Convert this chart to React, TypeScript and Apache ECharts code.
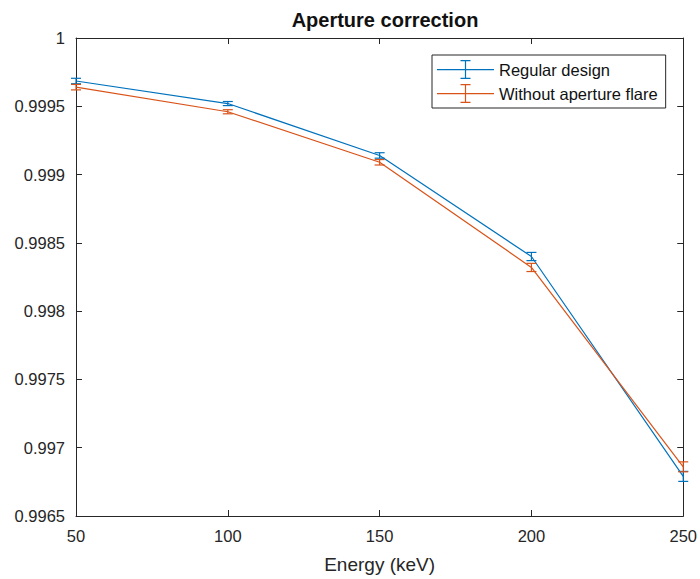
import React, { useEffect, useRef } from "react";
import * as echarts from "echarts";

// Photon energies (keV)
const energies = [50, 100, 150, 200, 250];

// Aperture correction factor, regular collimator design
const regularDesign = [0.999685, 0.99952, 0.99914, 0.9984, 0.99679];
const regularErr = [0.00002, 0.000015, 0.00002, 0.00003, 0.0000365];

// Aperture correction factor, collimator without aperture flare
const noFlare = [0.99964, 0.99946, 0.99909, 0.99832, 0.99686];
const noFlareErr = [0.00002, 0.000015, 0.00002, 0.00003, 0.0000365];

const yTicks = { min: 0.9965, max: 1, interval: 0.0005 };
const xTicks = { min: 50, max: 250, interval: 50 };

const BLUE = "#0072BD";
const ORANGE = "#D95319";
const AXIS = "#262626";
const FONT = "Liberation Sans, Arial, Helvetica, sans-serif";

// Error-bar glyph used for legend icons: horizontal line with a capped whisker
const ERRBAR_ICON =
  "path://M0,9h57v1.2H0z M27.9,0h1.2v19h-1.2z M23.5,0h10v1.2H23.5z M23.5,17.8h10v1.2H23.5z";

function errorBarSeries(name: string, values: number[], errs: number[], color: string) {
  const data = energies.map((x, i) => [x, values[i] - errs[i], values[i] + errs[i]]);
  return {
    name,
    type: "custom",
    silent: true,
    z: 3,
    renderItem: (params: any, api: any) => {
      const x = api.value(0);
      const lo = api.coord([x, api.value(1)]);
      const hi = api.coord([x, api.value(2)]);
      const cap = 5;
      const style = { stroke: color, lineWidth: 1.2 };
      return {
        type: "group",
        children: [
          { type: "line", shape: { x1: lo[0], y1: lo[1], x2: hi[0], y2: hi[1] }, style },
          { type: "line", shape: { x1: lo[0] - cap, y1: lo[1], x2: lo[0] + cap, y2: lo[1] }, style },
          { type: "line", shape: { x1: hi[0] - cap, y1: hi[1], x2: hi[0] + cap, y2: hi[1] }, style },
        ],
      };
    },
    encode: { x: 0, y: [1, 2] },
    data,
  };
}

export default function App() {
  const ref = useRef<HTMLDivElement>(null);

  useEffect(() => {
    if (!ref.current) return;
    const chart = echarts.init(ref.current, undefined, { renderer: "svg" });
    const fmt = (v: number) => String(parseFloat(v.toFixed(4)));
    const tickStyle = { inside: true, length: 6, lineStyle: { color: AXIS, width: 1 } };
    const axisLine = { show: true, lineStyle: { color: AXIS, width: 1 } };

    chart.setOption({
      animation: false,
      backgroundColor: "#ffffff",
      title: {
        text: "Aperture correction",
        left: 380,
        top: 5,
        textAlign: "center",
        textStyle: { fontFamily: FONT, fontSize: 20, fontWeight: "bold", color: "#111" },
      },
      legend: {
        orient: "vertical",
        left: 432,
        top: 55,
        padding: [5, 8, 5, 5],
        itemGap: 5,
        itemWidth: 57,
        itemHeight: 19,
        backgroundColor: "#fff",
        borderColor: AXIS,
        borderWidth: 1,
        selectedMode: false,
        textStyle: { fontFamily: FONT, fontSize: 16.5, color: "#111", padding: [0, 0, 0, 0] },
        data: [
          { name: "Regular design", icon: ERRBAR_ICON, itemStyle: { color: BLUE } },
          { name: "Without aperture flare", icon: ERRBAR_ICON, itemStyle: { color: ORANGE } },
        ],
      },
      grid: { left: 76, right: 16, top: 38, bottom: 62, show: false },
      xAxis: [
        {
          type: "value",
          ...xTicks,
          name: "Energy (keV)",
          nameLocation: "middle",
          nameGap: 39,
          nameTextStyle: { fontFamily: FONT, fontSize: 19, color: AXIS },
          axisLine,
          axisTick: tickStyle,
          axisLabel: { fontFamily: FONT, fontSize: 16.5, color: AXIS, margin: 11 },
          splitLine: { show: false },
        },
        {
          type: "value",
          position: "top",
          ...xTicks,
          axisLine,
          axisTick: tickStyle,
          axisLabel: { show: false },
          splitLine: { show: false },
        },
      ],
      yAxis: [
        {
          type: "value",
          ...yTicks,
          axisLine,
          axisTick: tickStyle,
          axisLabel: { fontFamily: FONT, fontSize: 16.5, color: AXIS, margin: 11, formatter: fmt },
          splitLine: { show: false },
        },
        {
          type: "value",
          position: "right",
          ...yTicks,
          axisLine,
          axisTick: tickStyle,
          axisLabel: { show: false },
          splitLine: { show: false },
        },
      ],
      series: [
        {
          name: "Regular design",
          type: "line",
          data: energies.map((x, i) => [x, regularDesign[i]]),
          showSymbol: false,
          lineStyle: { color: BLUE, width: 1.2 },
          itemStyle: { color: BLUE },
          z: 2,
        },
        {
          name: "Without aperture flare",
          type: "line",
          data: energies.map((x, i) => [x, noFlare[i]]),
          showSymbol: false,
          lineStyle: { color: ORANGE, width: 1.2 },
          itemStyle: { color: ORANGE },
          z: 2,
        },
        errorBarSeries("Regular design", regularDesign, regularErr, BLUE),
        errorBarSeries("Without aperture flare", noFlare, noFlareErr, ORANGE),
      ],
    });
    return () => chart.dispose();
  }, []);

  return (
    <div
      ref={ref}
      style={{ position: "fixed", left: 0, top: 0, width: 700, height: 579, background: "#fff" }}
    />
  );
}
